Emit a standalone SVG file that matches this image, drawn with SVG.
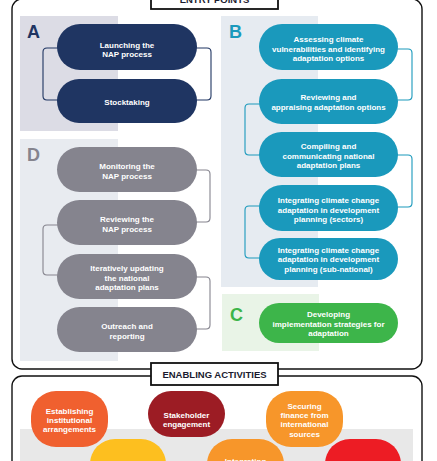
<svg xmlns="http://www.w3.org/2000/svg" width="437" height="461" viewBox="0 0 437 461">
<style>
.frame{fill:none;stroke:#111;stroke-width:1.4}
.lbl{fill:#fff;stroke:#111;stroke-width:1.8}
.ttl{font-family:"Liberation Sans",Arial,sans-serif;font-weight:bold;font-size:9.5px;fill:#1b1b2f;text-anchor:middle}
.t{font-family:"Liberation Sans",Arial,sans-serif;font-weight:bold;font-size:8px;fill:#fff;text-anchor:middle}
.let{font-family:"Liberation Sans",Arial,sans-serif;font-weight:bold;font-size:18px}
.na{fill:#1f3562}
.nb{fill:#1a99bc}
.nc{fill:#3db54a}
.nd{fill:#85848e}
.ca{fill:none;stroke:#1f3562;stroke-width:1.1}
.cb{fill:none;stroke:#1a99bc;stroke-width:1.1}
.cd{fill:none;stroke:#85848e;stroke-width:1.1}
</style>
<rect width="437" height="461" fill="#fff"/>
<!-- frames -->
<rect class="frame" x="12" y="-1" width="410" height="370" rx="10"/>
<rect class="lbl" x="151" y="-14" width="127" height="23"/>
<text class="ttl" x="214.5" y="3">ENTRY POINTS</text>
<rect class="frame" x="12" y="376" width="410" height="100" rx="10"/>
<rect class="lbl" x="151" y="363" width="127" height="22"/>
<text class="ttl" x="214.5" y="377.5">ENABLING ACTIVITIES</text>
<!-- panels -->
<rect x="20" y="16" width="98" height="115" fill="#dcdce5"/>
<rect x="221" y="16" width="97" height="271" fill="#e6ebf1"/>
<rect x="20" y="139" width="98" height="222" fill="#e8ebf0"/>
<rect x="222" y="294" width="97" height="57" fill="#e9f4e7"/>
<rect x="20" y="429" width="393" height="40" fill="#e8e8e8"/>
<text class="let" x="27" y="38" fill="#1f3562">A</text>
<text class="let" x="229" y="38" fill="#1a99bc">B</text>
<text class="let" x="230" y="321" fill="#3db54a">C</text>
<text class="let" x="27" y="161" fill="#85848e">D</text>
<!-- connectors -->
<g id="connectors">
<path class="ca" d="M60 48 H47 Q43 48 43 52 V96 Q43 100 47 100 H60"/>
<path class="ca" d="M194 48 H207 Q211 48 211 52 V96 Q211 100 207 100 H194"/>
<path class="cb" d="M395 49 H408 Q412 49 412 53 V96 Q412 100 408 100 H395"/>
<path class="cb" d="M262 104 H249 Q245 104 245 108 V151 Q245 155 249 155 H262"/>
<path class="cb" d="M395 155 H408 Q412 155 412 159 V203 Q412 207 408 207 H395"/>
<path class="cb" d="M262 206 H249 Q245 206 245 210 V254 Q245 258 249 258 H262"/>
<path class="cd" d="M194 170 H206 Q210 170 210 174 V218 Q210 222 206 222 H194"/>
<path class="cd" d="M60 225 H47 Q43 225 43 229 V271 Q43 275 47 275 H60"/>
<path class="cd" d="M194 277 H206 Q210 277 210 281 V325 Q210 329 206 329 H194"/>
</g>
<!-- A nodes -->
<g id="a1"><rect class="na" x="57" y="24" width="140" height="46" rx="23"/>
<text class="t" x="127" y="47.5">Launching the</text><text class="t" x="127" y="56.5">NAP process</text></g>
<g id="a2"><rect class="na" x="57" y="79" width="140" height="44" rx="22"/>
<text class="t" x="127" y="104.5">Stocktaking</text></g>
<!-- B nodes -->
<g id="b1"><rect class="nb" x="259" y="24" width="139" height="46" rx="23"/>
<text class="t" x="328.5" y="42.3">Assessing climate</text><text class="t" x="328.5" y="52">vulnerabilities and identifying</text><text class="t" x="328.5" y="61.3">adaptation options</text></g>
<g id="b2"><rect class="nb" x="259" y="79" width="139" height="45" rx="22.5"/>
<text class="t" x="328.5" y="100.3">Reviewing and</text><text class="t" x="328.5" y="109.7">appraising adaptation options</text></g>
<g id="b3"><rect class="nb" x="259" y="132" width="139" height="45" rx="22.5"/>
<text class="t" x="328.5" y="149">Compiling and</text><text class="t" x="328.5" y="158.5">communicating national</text><text class="t" x="328.5" y="168">adaptation plans</text></g>
<g id="b4"><rect class="nb" x="259" y="185" width="139" height="46" rx="23"/>
<text class="t" x="328.5" y="203.3">Integrating climate change</text><text class="t" x="328.5" y="212.6">adaptation in development</text><text class="t" x="328.5" y="222">planning (sectors)</text></g>
<g id="b5"><rect class="nb" x="259" y="238" width="139" height="42" rx="21"/>
<text class="t" x="328.5" y="253">Integrating climate change</text><text class="t" x="328.5" y="262.3">adaptation in development</text><text class="t" x="328.5" y="271.8">planning (sub-national)</text></g>
<!-- C node -->
<g id="c1"><rect class="nc" x="259" y="303" width="139" height="40" rx="20"/>
<text class="t" x="328.5" y="317.3">Developing</text><text class="t" x="328.5" y="326.6">implementation strategies for</text><text class="t" x="328.5" y="336">adaptation</text></g>
<!-- D nodes -->
<g id="d1"><rect class="nd" x="57" y="147" width="140" height="45" rx="22.5"/>
<text class="t" x="127" y="169">Monitoring the</text><text class="t" x="127" y="178.7">NAP process</text></g>
<g id="d2"><rect class="nd" x="57" y="200" width="140" height="45" rx="22.5"/>
<text class="t" x="127" y="222.3">Reviewing the</text><text class="t" x="127" y="232">NAP process</text></g>
<g id="d3"><rect class="nd" x="57" y="254" width="140" height="45" rx="22.5"/>
<text class="t" x="127" y="271.3">Iteratively updating</text><text class="t" x="127" y="280.5">the national</text><text class="t" x="127" y="289.7">adaptation plans</text></g>
<g id="d4"><rect class="nd" x="57" y="307" width="140" height="45" rx="22.5"/>
<text class="t" x="127" y="329">Outreach and</text><text class="t" x="127" y="338.7">reporting</text></g>
<!-- enabling activities -->
<g id="e1"><rect x="31" y="391" width="77" height="56" rx="25" fill="#f0602f"/>
<text class="t" x="69.5" y="413.7">Establishing</text><text class="t" x="69.5" y="423">institutional</text><text class="t" x="69.5" y="432.3">arrangements</text></g>
<g id="e2"><rect x="148" y="391" width="77" height="46" rx="23" fill="#9c1c24"/>
<text class="t" x="186.5" y="418">Stakeholder</text><text class="t" x="186.5" y="427.3">engagement</text></g>
<g id="e3"><rect x="266" y="391" width="77" height="56" rx="25" fill="#f7962a"/>
<text class="t" x="304.5" y="408.7">Securing</text><text class="t" x="304.5" y="418">finance from</text><text class="t" x="304.5" y="427.3">international</text><text class="t" x="304.5" y="437">sources</text></g>
<g id="e4"><rect x="90" y="439" width="76" height="56" rx="25" fill="#fdbf1f"/></g>
<g id="e5"><rect x="207" y="439" width="77" height="56" rx="25" fill="#f7962a"/>
<text class="t" x="245.5" y="464">Integrating</text></g>
<g id="e6"><rect x="325" y="439" width="76" height="56" rx="25" fill="#ed1c24"/></g>
</svg>
